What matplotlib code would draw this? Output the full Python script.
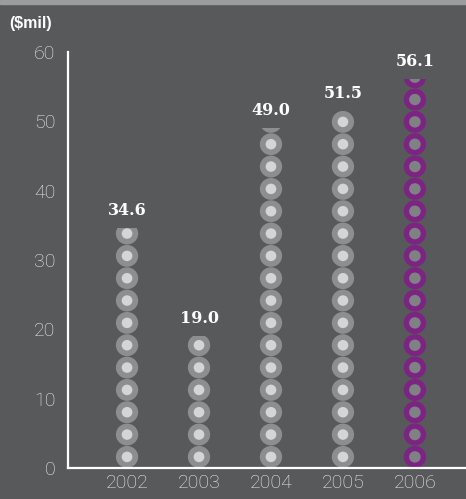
import matplotlib.pyplot as plt
from matplotlib.patches import Ellipse, Rectangle

years = ['2002', '2003', '2004', '2005', '2006']
revenue = [34.6, 19.0, 49.0, 51.5, 56.1]
y_ticks = [0, 10, 20, 30, 40, 50, 60]

bg = '#58595b'
ring_gray, dot_gray = '#8d8e90', '#d4d5d7'
ring_purple, dot_purple = '#7c2384', '#808184'

fig = plt.figure(figsize=(4.66, 4.99), dpi=100, facecolor=bg)
# thin light strip across the top
fig.patches.append(Rectangle((0, 0.992), 1, 0.008, transform=fig.transFigure,
                             color='#9b9c9e', zorder=0))

ax = fig.add_axes([0.146, 0.062, 0.854, 0.834], facecolor=bg)
ax.set_xlim(-0.82, 4.71)
ax.set_ylim(0, 60)

step = 3.22      # one coin per step in $mil
coin_w = 0.31    # coin width in category units

xs = list(range(len(years)))
bars = ax.bar(xs, revenue, width=coin_w + 0.02, color='none', edgecolor='none')

for i, (x, v, bar) in enumerate(zip(xs, revenue, bars)):
    last = i == len(years) - 1
    ring = ring_purple if last else ring_gray
    dot = dot_purple if last else dot_gray
    inner = 0.52 if last else 0.48
    n = int(v // step) + 1
    for k in range(n):
        cy = step / 2 + k * step
        outer = Ellipse((x, cy), coin_w, step * 0.98, facecolor=ring, edgecolor='none', zorder=2)
        core = Ellipse((x, cy), coin_w * inner, step * 0.98 * inner, facecolor=dot, edgecolor='none', zorder=3)
        for p in (outer, core):
            ax.add_patch(p)
            p.set_clip_path(bar)
    ax.text(x, v + 1.3, f'{v:.1f}', ha='center', va='bottom', color='white',
            fontsize=11.5, fontweight='bold', family='DejaVu Serif')

ax.set_xticks(xs)
ax.set_xticklabels(years)
ax.set_yticks(y_ticks)
ax.tick_params(length=0, colors='#eeeeee', labelsize=14)
ax.tick_params(axis='y', pad=9)
ax.tick_params(axis='x', pad=4)
for t in ax.get_xticklabels() + ax.get_yticklabels():
    t.set_family('Roboto')
    t.set_fontweight('light')

for s in ['top', 'right']:
    ax.spines[s].set_visible(False)
for s in ['left', 'bottom']:
    ax.spines[s].set_color('white')
    ax.spines[s].set_linewidth(1.6)

fig.text(0.02, 0.953, '($mil)', color='white', fontsize=11.5, fontweight='bold',
         family='Liberation Sans', ha='left', va='center')

fig.savefig('out.png', dpi=100, facecolor=bg)
